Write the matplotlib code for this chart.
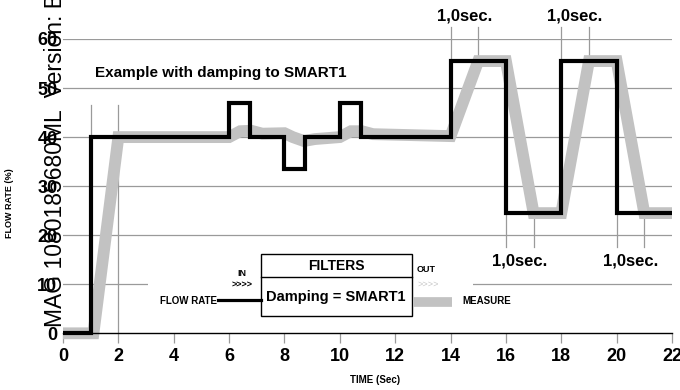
import matplotlib.pyplot as plt
from matplotlib.patches import Rectangle
from matplotlib.lines import Line2D

plt.rcParams['font.family'] = ['Liberation Sans', 'DejaVu Sans']

# input flow rate (step signal)
flow_t = [0, 1, 1, 6, 6, 6.75, 6.75, 8, 8, 8.75, 8.75, 10, 10, 10.75, 10.75,
          14, 14, 16, 16, 18, 18, 20, 20, 22]
flow_v = [0, 0, 40, 40, 47, 47, 40, 40, 33.5, 33.5, 40, 40, 47, 47, 40,
          40, 55.5, 55.5, 24.5, 24.5, 55.5, 55.5, 24.5, 24.5]

# damped measurement (SMART1)
meas_t = [0, 1.1, 2, 6, 6.4, 6.8, 7.2, 8, 8.3, 8.7, 9.1, 10, 10.4, 10.8, 11.2,
          14, 15, 16, 17, 18, 19, 20, 21, 22]
meas_v = [0, 0, 40, 40, 41.2, 41.3, 40.7, 40.8, 40, 39.2, 39.6, 40, 41.2, 41.2, 40.6,
          40.2, 55.5, 55.5, 24.5, 24.5, 55.5, 55.5, 24.5, 24.5]

# 1 second response markers
start_marks = [1, 2]
top_marks = [14, 15, 18, 19]
bottom_marks = [16, 17, 20, 21]
top_labels_t = [14.5, 18.5]
bottom_labels_t = [16.5, 20.5]
sec_label = '1,0sec.'

x_ticks = list(range(0, 23, 2))
y_ticks = [0, 10, 20, 30, 40, 50, 60]

W, H = 680, 390
fig = plt.figure(figsize=(W / 100, H / 100), dpi=100)
ax = fig.add_axes([63 / W, 56.7 / H, 609 / W, 294.3 / H])
ax.set_xlim(0, 22)
ax.set_ylim(0, 60)

grid_col = '#9a9a9a'
for y in y_ticks[1:]:
    ax.axhline(y, color=grid_col, lw=0.9, zorder=1)

for t in start_marks:
    ax.plot([t, t], [0, 46.5], color=grid_col, lw=0.9, zorder=1)
for t in top_marks:
    ax.plot([t, t], [55.5, 62.4], color=grid_col, lw=0.9, zorder=1, clip_on=False)
for t in bottom_marks:
    ax.plot([t, t], [17.6, 24.5], color=grid_col, lw=0.9, zorder=1)
for t in top_labels_t:
    ax.text(t, 64.7, sec_label, ha='center', va='center', fontsize=12,
            fontweight='bold', clip_on=False)
for t in bottom_labels_t:
    ax.text(t, 14.7, sec_label, ha='center', va='center', fontsize=12,
            fontweight='bold')

ax.plot(meas_t, meas_v, color='#c2c2c2', lw=8.5, solid_joinstyle='miter',
        solid_capstyle='butt', zorder=2, clip_on=False)
ax.plot(flow_t, flow_v, color='black', lw=3, solid_joinstyle='miter',
        solid_capstyle='butt', zorder=3, clip_on=False)

for s in ['top', 'right', 'left']:
    ax.spines[s].set_visible(False)
ax.spines['bottom'].set_linewidth(1)
ax.set_xticks(x_ticks)
ax.set_yticks(y_ticks)
ax.tick_params(axis='x', direction='out', length=7, color=grid_col, width=0.9,
               pad=3.5, labelsize=13)
ax.tick_params(axis='y', length=0, pad=4, labelsize=13)
for lab in ax.get_xticklabels() + ax.get_yticklabels():
    lab.set_fontweight('bold')

ax.set_xlabel('TIME (Sec)', fontsize=7, fontweight='bold')
ax.xaxis.set_label_coords((375 - 63) / 609, -(380 - 333.3) / 294.3)
ax.xaxis.label.set_va('center')
fig.text(10 / W, 1 - 203 / H, 'FLOW RATE (%)', rotation=90, ha='center',
         va='center', fontsize=6.5, fontweight='bold')

ax.text((95 - 63) / 609, 1 - (73 - 39) / 294.3, 'Example with damping to SMART1',
        transform=ax.transAxes, ha='left', va='center', fontsize=11,
        fontweight='bold')


def px(x, y):
    return x / W, 1 - y / H


# filter diagram
fig.patches.append(Rectangle(px(148, 318), 325 / W, 66 / H, transform=fig.transFigure,
                             facecolor='white', edgecolor='none', zorder=1))
fig.patches.append(Rectangle(px(261, 316), 151 / W, 62 / H, transform=fig.transFigure,
                             facecolor='white', edgecolor='black', lw=1, zorder=2))
fig.lines.append(Line2D(*zip(px(261, 277), px(412, 277)), transform=fig.transFigure,
                        color='black', lw=1, zorder=3))
fig.lines.append(Line2D(*zip(px(218, 300), px(261, 300)), transform=fig.transFigure,
                        color='black', lw=2.3, zorder=3))
fig.lines.append(Line2D(*zip(px(413, 302), px(452, 302)), transform=fig.transFigure,
                        color='#c2c2c2', lw=7, solid_capstyle='butt', zorder=3))
fig.text(*px(336, 266), 'FILTERS', ha='center', va='center', fontsize=10,
         fontweight='bold')
fig.text(*px(336, 297), 'Damping = SMART1', ha='center', va='center', fontsize=10.5,
         fontweight='bold')
fig.text(*px(217, 301), 'FLOW RATE', ha='right', va='center', fontsize=7,
         fontweight='bold')
fig.text(*px(242, 273), 'IN', ha='center', va='center', fontsize=6.5, fontweight='bold')
fig.text(*px(242, 285), '>>>>', ha='center', va='center', fontsize=6.5, fontweight='bold')
fig.text(*px(417, 270), 'OUT', ha='left', va='center', fontsize=6.5, fontweight='bold')
fig.text(*px(417, 284), '>>>>', ha='left', va='center', fontsize=6.5, color='#c8c8c8')
fig.text(*px(462, 301), 'MEASURE', ha='left', va='center', fontsize=7,
         fontweight='bold')

# document reference printed along the left edge
fig.text(*px(62, 327), 'MAG 1080185680ML  Version: B', rotation=90,
         rotation_mode='anchor', ha='left', va='baseline', fontsize=16.5, zorder=5)

fig.savefig('out.png', dpi=100)
